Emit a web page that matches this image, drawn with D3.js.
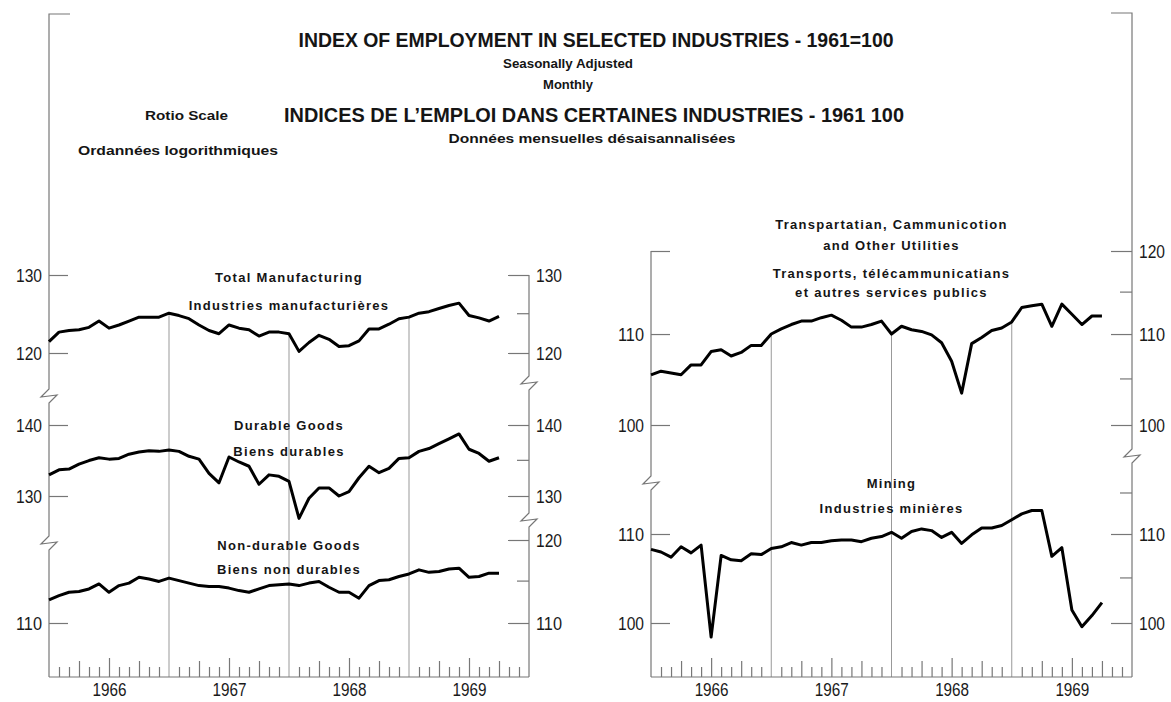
<!DOCTYPE html>
<html>
<head>
<meta charset="utf-8" />
<script src="https://d3js.org/d3.v7.min.js"></script>
<style>
    body { margin: 0; background: #fff; }
    svg { display: block; }
    .title { font-family: "Liberation Sans", Arial, sans-serif; font-weight: bold; fill: #151515; }
    .sub { font-family: "Liberation Sans", Arial, sans-serif; font-weight: bold; fill: #151515; }
    .lbl { font-family: "Liberation Sans", Arial, sans-serif; font-weight: bold; fill: #151515; letter-spacing: 1.3px; }
    .num text { font-family: "Liberation Sans", Arial, sans-serif; font-size: 19px; fill: #1a1a1a; }
    .num line { stroke: #777; stroke-width: 1.2px; }
    .frame { fill: none; stroke: #777; stroke-width: 1.2px; }
    .yearline { stroke: #999; stroke-width: 1px; }
    .series { fill: none; stroke: #000; stroke-width: 3px; stroke-linejoin: round; }
</style>
</head>
<body>
<svg></svg>
<script>
// months from Jan 1966 (index 0) to Oct 1969 (index 45)
const years = ['1966', '1967', '1968', '1969']

const totalMfg = [121.4, 122.6, 122.8, 122.9, 123.2, 124.0, 123.1, 123.5, 124.0, 124.5,
    124.5, 124.5, 125.0, 124.7, 124.3, 123.5, 122.8, 122.4, 123.5, 123.1,
    122.9, 122.1, 122.6, 122.6, 122.4, 120.2, 121.3, 122.2, 121.7, 120.8,
    120.9, 121.5, 123.0, 123.0, 123.6, 124.3, 124.5, 125.0, 125.2, 125.6,
    126.0, 126.3, 124.7, 124.4, 124.0, 124.6]
const durable = [132.9, 133.6, 133.7, 134.4, 134.9, 135.3, 135.1, 135.2, 135.8, 136.1,
    136.3, 136.2, 136.4, 136.2, 135.5, 135.1, 133.1, 131.8, 135.4, 134.7,
    134.1, 131.6, 132.9, 132.7, 132.0, 127.0, 129.7, 131.1, 131.1, 130.0,
    130.6, 132.5, 134.1, 133.2, 133.8, 135.2, 135.3, 136.2, 136.6, 137.3,
    138.0, 138.7, 136.5, 135.9, 134.8, 135.3]
const nonDurable = [112.7, 113.2, 113.6, 113.7, 114.0, 114.6, 113.6, 114.4, 114.7, 115.4,
    115.2, 114.9, 115.3, 115.0, 114.7, 114.4, 114.3, 114.3, 114.1, 113.8,
    113.6, 114.0, 114.4, 114.5, 114.6, 114.4, 114.7, 114.9, 114.2, 113.6,
    113.6, 112.9, 114.4, 115.0, 115.1, 115.5, 115.8, 116.3, 116.0, 116.1,
    116.4, 116.5, 115.4, 115.5, 115.9, 115.9]
const transport = [105.4, 105.8, 105.6, 105.4, 106.5, 106.5, 108.0, 108.2, 107.5, 107.9,
    108.7, 108.7, 110.0, 110.6, 111.1, 111.5, 111.5, 111.9, 112.2, 111.6,
    110.8, 110.8, 111.1, 111.5, 110.0, 110.9, 110.5, 110.3, 109.9, 109.0,
    106.9, 103.4, 108.9, 109.6, 110.4, 110.7, 111.4, 113.1, 113.3, 113.5,
    110.9, 113.5, 112.3, 111.1, 112.1, 112.1]
const mining = [108.2, 107.9, 107.3, 108.5, 107.8, 108.7, 98.5, 107.5, 107.0, 106.9,
    107.7, 107.6, 108.3, 108.5, 109.0, 108.7, 109.0, 109.0, 109.2, 109.3,
    109.3, 109.1, 109.5, 109.7, 110.2, 109.5, 110.3, 110.6, 110.4, 109.6,
    110.2, 108.9, 109.9, 110.7, 110.7, 111.0, 111.7, 112.4, 112.8, 112.8,
    107.4, 108.4, 101.4, 99.6, 100.8, 102.2]

// tick values
const tmTicks = [120, 130], tmMinor = [125]
const duTicks = [130, 140], duMinor = [135]
const ndTicksLeft = [110], ndTicks = [110, 120], ndMinor = [115]
const trTicksLeft = [100, 110], trTicks = [100, 110, 120], trMinor = [105, 115]
const miTicks = [100, 110], miMinor = [105, 115]

const titleLines = ['INDEX OF EMPLOYMENT IN SELECTED INDUSTRIES - 1961=100',
    'INDICES DE L\u2019EMPLOI DANS CERTAINES INDUSTRIES - 1961 100']
const subLines = ['Seasonally Adjusted', 'Monthly', 'Données mensuelles désaisannalisées']
const scaleNotes = ['Rotio Scale', 'Ordannées logorithmiques']
const leftLabels = ['Total Manufacturing', 'Industries manufacturières', 'Durable Goods',
    'Biens durables', 'Non-durable Goods', 'Biens non durables']
const rightLabels = ['Transpartatian, Cammunicotion', 'and Other Utilities',
    'Transports, télécammunicatians', 'et autres services publics', 'Mining', 'Industries minières']

const svg = d3.select('svg').attr('width', 1171).attr('height', 702)
const baseY = 677

const xL = d3.scaleLinear().domain([0, 48]).range([49, 529])
const xR = d3.scaleLinear().domain([0, 48]).range([651, 1132])

const yTm = d3.scaleLog().domain([120, 130]).range([353, 275])
const yDu = d3.scaleLog().domain([130, 140]).range([496, 425])
const yNd = d3.scaleLog().domain([110, 120]).range([623, 540])
const yTr = d3.scaleLog().domain([100, 120]).range([425, 251])
const yMi = d3.scaleLog().domain([100, 110]).range([623, 534])

// axis line with break symbols
function axisPath(x, top, bottom, breaks) {
    const p = d3.path()
    p.moveTo(x, top)
    breaks.forEach(b => {
        p.lineTo(x, b - 7)
        p.lineTo(x - 8, b + 1)
        p.lineTo(x + 8, b - 1)
        p.lineTo(x, b + 7)
    })
    p.lineTo(x, bottom)
    return p.toString()
}

// year boundary lines (under the data)
function yearLines(x, yScale, series) {
    svg.append('g').selectAll('line')
        .data([12, 24, 36])
        .join('line')
        .attr('class', 'yearline')
        .attr('x1', d => x(d)).attr('x2', d => x(d))
        .attr('y1', d => yScale(series[d])).attr('y2', baseY)
}
yearLines(xL, yTm, totalMfg)
yearLines(xR, yTr, transport)

// frames
svg.append('path').attr('class', 'frame').attr('d', 'M70,14 L49,14 ' + axisPath(49, 14, baseY, [396, 543]).replace('M', 'L'))
svg.append('path').attr('class', 'frame').attr('d', axisPath(xL(48), yTm(130), baseY, [383, 520]))
svg.append('path').attr('class', 'frame').attr('d', axisPath(xR(0), yTr(120), baseY, [483]))
svg.append('path').attr('class', 'frame').attr('d', 'M1111,13 L1132,13 ' + axisPath(xR(48), 13, baseY, [456]).replace('M', 'L'))
svg.append('path').attr('class', 'frame').attr('d', `M${xL(0)},${baseY}H${xL(48)}M${xR(0)},${baseY}H${xR(48)}`)

function yAxis(axisFn, x, scale, values, size, labelled) {
    const g = svg.append('g').attr('class', 'num')
        .attr('transform', `translate(${x},0)`)
        .call(axisFn(scale).tickValues(values).tickSizeInner(-size).tickSizeOuter(0)
            .tickPadding(7).tickFormat(labelled ? d3.format('d') : () => ''))
    g.attr('font-family', null).attr('font-size', null)
    g.select('.domain').remove()
    g.selectAll('text').attr('textLength', 26).attr('lengthAdjust', 'spacingAndGlyphs')
}

// left panel
yAxis(d3.axisLeft, xL(0), yTm, tmTicks, 19, true)
yAxis(d3.axisLeft, xL(0), yDu, duTicks, 19, true)
yAxis(d3.axisLeft, xL(0), yNd, ndTicksLeft, 19, true)
yAxis(d3.axisRight, xL(48), yTm, tmTicks, 21, true)
yAxis(d3.axisRight, xL(48), yDu, duTicks, 21, true)
yAxis(d3.axisRight, xL(48), yNd, ndTicks, 21, true)
yAxis(d3.axisRight, xL(48), yTm, tmMinor, 12, false)
yAxis(d3.axisRight, xL(48), yDu, duMinor, 12, false)
yAxis(d3.axisRight, xL(48), yNd, ndMinor, 12, false)

// right panel
yAxis(d3.axisLeft, xR(0), yTr, trTicksLeft, 19, true)
yAxis(d3.axisLeft, xR(0), yTr, [120], 19, false)
yAxis(d3.axisLeft, xR(0), yMi, miTicks, 19, true)
yAxis(d3.axisRight, xR(48), yTr, trTicks, 21, true)
yAxis(d3.axisRight, xR(48), yTr, trMinor, 12, false)
yAxis(d3.axisRight, xR(48), yMi, miTicks, 21, true)
yAxis(d3.axisRight, xR(48), yMi, miMinor, 12, false)

// month ticks and year labels
function xAxis(x) {
    const g = svg.append('g').attr('class', 'num').attr('transform', `translate(0,${baseY})`)
        .call(d3.axisBottom(x).tickValues(d3.range(1, 48)).tickSizeInner(-10).tickSizeOuter(0).tickFormat(''))
    g.select('.domain').remove()
    g.selectAll('.tick line').attr('y2', d => d % 12 === 0 ? 0 : d % 12 === 6 ? -19 : d % 3 === 0 ? -16 : -10)
    const y = svg.append('g').attr('class', 'num').attr('transform', `translate(0,${baseY})`)
        .call(d3.axisBottom(x).tickValues([6, 18, 30, 42]).tickSize(0).tickPadding(6)
            .tickFormat((d, i) => years[i]))
    y.attr('font-family', null).attr('font-size', null)
    y.select('.domain').remove()
    y.selectAll('text').style('font-size', '18px')
        .attr('textLength', 34).attr('lengthAdjust', 'spacingAndGlyphs')
}
xAxis(xL)
xAxis(xR)

// series
const line = (x, y) => d3.line().x((d, i) => x(i)).y(d => y(d))
;[[totalMfg, xL, yTm], [durable, xL, yDu], [nonDurable, xL, yNd],
  [transport, xR, yTr], [mining, xR, yMi]].forEach(([s, x, y]) => {
    svg.append('path').attr('class', 'series').attr('d', line(x, y)(s))
})

// texts
function text(str, x, y, cls, size, anchor, width) {
    const t = svg.append('text').attr('class', cls).attr('x', x).attr('y', y)
        .attr('font-size', size).attr('text-anchor', anchor || 'middle')
        .attr('dominant-baseline', 'central').text(str)
    if (width) t.attr('textLength', width).attr('lengthAdjust', 'spacingAndGlyphs')
}
text(titleLines[0], 596, 39, 'title', 21, 'middle', 595)
text(subLines[0], 568, 63, 'sub', 13, 'middle', 130)
text(subLines[1], 568, 84, 'sub', 13, 'middle')
text(titleLines[1], 594, 114, 'title', 21, 'middle', 620)
text(subLines[2], 592, 138, 'sub', 13, 'middle', 287)
text(scaleNotes[0], 145, 115, 'sub', 13, 'start', 83)
text(scaleNotes[1], 78, 150, 'sub', 13, 'start', 200)

const lx = (xL(0) + xL(48)) / 2
text(leftLabels[0], lx, 277, 'lbl', 13)
text(leftLabels[1], lx, 305, 'lbl', 13)
text(leftLabels[2], lx, 425, 'lbl', 13)
text(leftLabels[3], lx, 451, 'lbl', 13)
text(leftLabels[4], lx, 545, 'lbl', 13)
text(leftLabels[5], lx, 569, 'lbl', 13)

const rx = (xR(0) + xR(48)) / 2
text(rightLabels[0], rx, 224, 'lbl', 13)
text(rightLabels[1], rx, 245, 'lbl', 13)
text(rightLabels[2], rx, 273, 'lbl', 13)
text(rightLabels[3], rx, 292, 'lbl', 13)
text(rightLabels[4], rx, 483, 'lbl', 13)
text(rightLabels[5], rx, 508, 'lbl', 13)
</script>
</body>
</html>
